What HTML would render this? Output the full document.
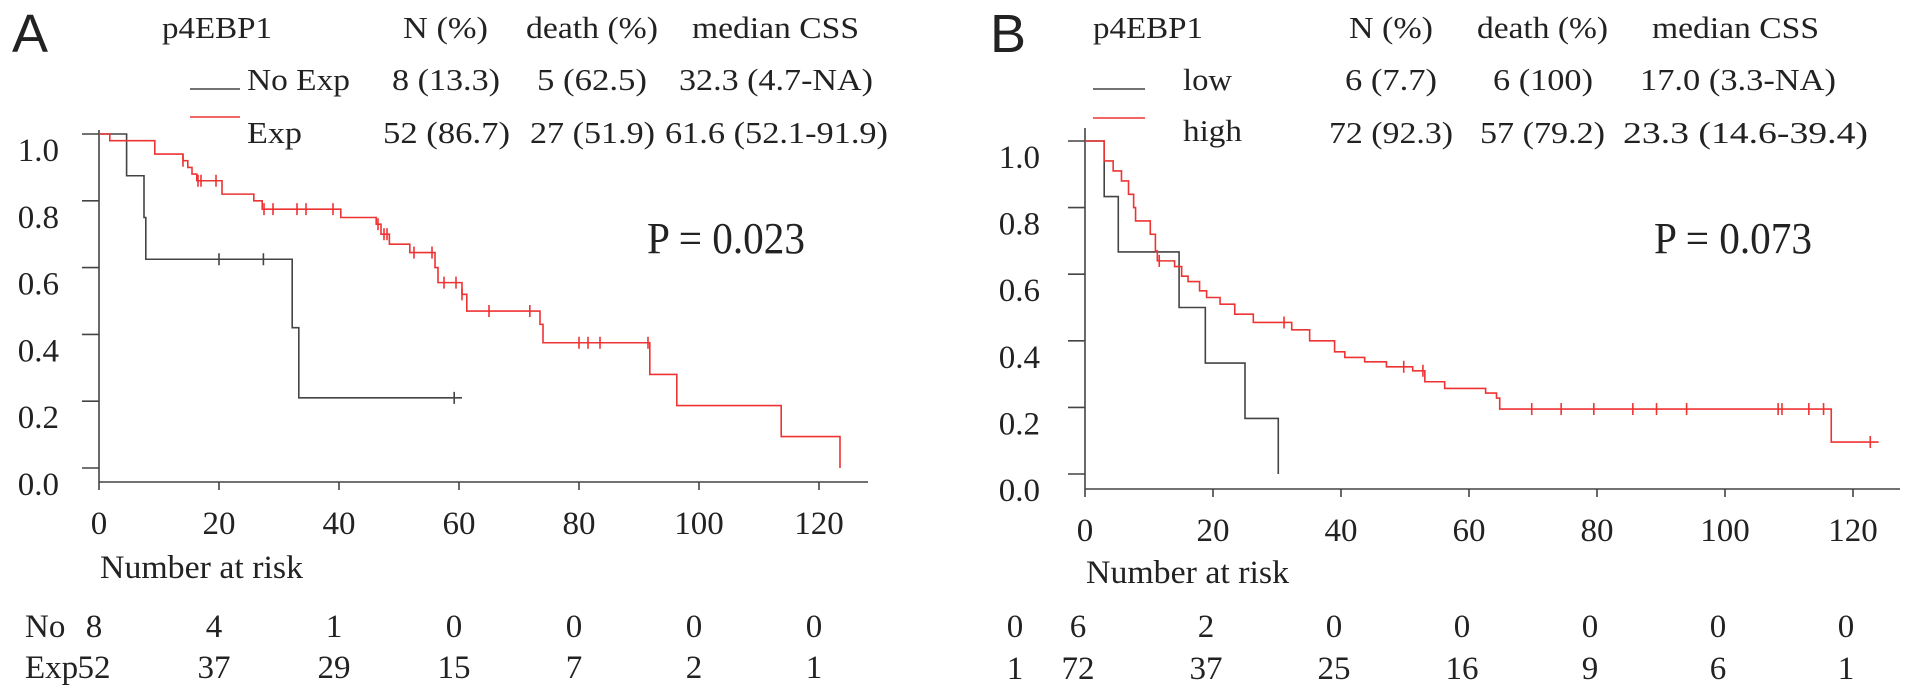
<!DOCTYPE html>
<html><head><meta charset="utf-8"><style>
html,body{margin:0;padding:0;background:#fff}
svg{display:block}
text{font-family:"Liberation Serif",serif;fill:#222}
</style></head><body>
<svg id="c" width="1913" height="699" viewBox="0 0 1913 699" xmlns="http://www.w3.org/2000/svg">
<g font-size="31">
<text x="12" y="52" style="font-family:'Liberation Sans',sans-serif" font-size="54">A</text>
<text x="162" y="38" textLength="110" lengthAdjust="spacingAndGlyphs">p4EBP1</text>
<text x="403" y="38" textLength="85" lengthAdjust="spacingAndGlyphs">N (%)</text>
<text x="526" y="38" textLength="132" lengthAdjust="spacingAndGlyphs">death (%)</text>
<text x="692" y="38" textLength="167" lengthAdjust="spacingAndGlyphs">median CSS</text>
<line x1="190" y1="89" x2="240" y2="89" stroke="#444" stroke-width="1.6"/>
<text x="247" y="90" textLength="103" lengthAdjust="spacingAndGlyphs">No Exp</text>
<text x="392" y="90" textLength="108" lengthAdjust="spacingAndGlyphs">8 (13.3)</text>
<text x="537" y="90" textLength="110" lengthAdjust="spacingAndGlyphs">5 (62.5)</text>
<text x="679" y="90" textLength="194" lengthAdjust="spacingAndGlyphs">32.3 (4.7-NA)</text>
<line x1="190" y1="117" x2="240" y2="117" stroke="#ee3333" stroke-width="1.6"/>
<text x="247" y="143" textLength="55" lengthAdjust="spacingAndGlyphs">Exp</text>
<text x="383" y="143" textLength="127" lengthAdjust="spacingAndGlyphs">52 (86.7)</text>
<text x="530" y="143" textLength="125" lengthAdjust="spacingAndGlyphs">27 (51.9)</text>
<text x="665" y="143" textLength="223" lengthAdjust="spacingAndGlyphs">61.6 (52.1-91.9)</text>
<text x="647" y="253" font-size="44" textLength="158" lengthAdjust="spacingAndGlyphs">P = 0.023</text>
</g>
<g font-size="31">
<text x="990" y="52" style="font-family:'Liberation Sans',sans-serif" font-size="54">B</text>
<text x="1093" y="38" textLength="110" lengthAdjust="spacingAndGlyphs">p4EBP1</text>
<text x="1349" y="38" textLength="84" lengthAdjust="spacingAndGlyphs">N (%)</text>
<text x="1477" y="38" textLength="131" lengthAdjust="spacingAndGlyphs">death (%)</text>
<text x="1652" y="38" textLength="167" lengthAdjust="spacingAndGlyphs">median CSS</text>
<line x1="1093" y1="89" x2="1145" y2="89" stroke="#444" stroke-width="1.6"/>
<text x="1183" y="90" textLength="49" lengthAdjust="spacingAndGlyphs">low</text>
<text x="1345" y="90" textLength="92" lengthAdjust="spacingAndGlyphs">6 (7.7)</text>
<text x="1493" y="90" textLength="100" lengthAdjust="spacingAndGlyphs">6 (100)</text>
<text x="1640" y="90" textLength="196" lengthAdjust="spacingAndGlyphs">17.0 (3.3-NA)</text>
<line x1="1093" y1="118" x2="1145" y2="118" stroke="#ee3333" stroke-width="1.6"/>
<text x="1183" y="141" textLength="59" lengthAdjust="spacingAndGlyphs">high</text>
<text x="1329" y="143" textLength="124" lengthAdjust="spacingAndGlyphs">72 (92.3)</text>
<text x="1480" y="143" textLength="125" lengthAdjust="spacingAndGlyphs">57 (79.2)</text>
<text x="1623" y="143" textLength="245" lengthAdjust="spacingAndGlyphs">23.3 (14.6-39.4)</text>
<text x="1654" y="253" font-size="44" textLength="158" lengthAdjust="spacingAndGlyphs">P = 0.073</text>
</g>
</svg>
<script>
// ---- Panel A data ----
const xTicks = [0,20,40,60,80,100,120];
const yTicks = [0,0.2,0.4,0.6,0.8,1.0];
const yTickLabels = ["0.0","0.2","0.4","0.6","0.8","1.0"];
const noExpT = [0,4.6,7.5,7.8,32.2,33.3];
const noExpV = [1,0.875,0.75,0.625,0.42,0.21];
const noExpEnd = 60.5;
const noExpCens = [20,27.4,59.2];
const expT = [0,1.8,9.3,14,14.8,15.5,16.3,20.5,25.8,27.2,40.3,46.2,47,48.4,51.8,56,56.5,60.5,61.3,73.5,74,91.8,96.3,113.7,123.5];
const expV = [1,0.98,0.94,0.92,0.90,0.88,0.86,0.82,0.80,0.775,0.75,0.73,0.70,0.67,0.645,0.60,0.555,0.52,0.47,0.43,0.375,0.28,0.187,0.094,0];
const expEnd = 123.5;
const expCens = [14,16.5,17,19.5,27.5,29,33,34.5,39,46.5,47.5,48,52.5,55.5,57.5,59.5,60.5,65,71.8,80,81.5,83.5,91.5];
const riskNo = [8,4,1,0,0,0,0];
const riskExp = [52,37,29,15,7,2,1];
// ---- Panel B data ----
const lowT = [0,3,5.2,14.7,18.8,25,30.2];
const lowV = [1,0.833,0.667,0.5,0.333,0.167,0];
const lowEnd = 30.2;
const lowCens = [];
const highT = [0,3,4.4,5.7,6.8,7.6,7.9,10.2,11,11.3,14,15.1,16.1,17.9,19,21.1,23.4,26.3,32.3,35.1,39,40.6,43.7,47.1,51.2,53.1,56.2,62.6,64.3,64.8,116.6];
const highV = [1,0.94,0.91,0.88,0.84,0.80,0.76,0.72,0.67,0.64,0.623,0.594,0.578,0.55,0.53,0.51,0.48,0.455,0.433,0.40,0.367,0.35,0.337,0.322,0.31,0.277,0.257,0.243,0.228,0.195,0.096];
const highEnd = 124;
const highCens = [11.6,31.1,49.8,52.8,69.8,74.4,79.5,85.6,89.3,94,108.3,108.9,113.1,115.4,122.7];
const riskLow = [6,2,0,0,0,0,0];
const riskHigh = [72,37,25,16,9,6,1];

const NS = "http://www.w3.org/2000/svg";
const svg = document.getElementById('c');
function mk(tag, attrs, parent){
  const e = document.createElementNS(NS, tag);
  for (const k in attrs) e.setAttribute(k, attrs[k]);
  (parent||svg).appendChild(e);
  return e;
}
function stepAt(T,V,t){ let v=V[0]; for(let i=0;i<T.length;i++){ if(T[i]<=t) v=V[i]; } return v; }

function panel(p){
  const g = mk('g', {});
  
  
  const X = t => p.x0 + p.sx*t;
  const Y = v => p.y0 - p.sy*v;
  const ya = mk('line',{x1:p.x0,y1:p.axTop,x2:p.x0,y2:p.axY,stroke:'#444','stroke-width':1.6},g);
  
  
  const xa = mk('line',{x1:p.x0,y1:p.axY,x2:p.axRight,y2:p.axY,stroke:'#444','stroke-width':1.6},g);
  
  
  yTicks.forEach((v,i)=>{
    const tk = mk('line',{x1:p.x0-17,y1:Y(v),x2:p.x0,y2:Y(v),stroke:'#444','stroke-width':1.6},g);
    
    
    const tl = mk('text',{x:p.yLabX,y:Y(v)+27,'text-anchor':'end','font-size':33},g);
    
    
    tl.textContent = yTickLabels[i];
  });
  xTicks.forEach(t=>{
    const tk = mk('line',{x1:X(t),y1:p.axY,x2:X(t),y2:p.axY+8,stroke:'#444','stroke-width':1.6},g);
    
    
    const tl = mk('text',{x:X(t),y:p.axY+52,'text-anchor':'middle','font-size':33},g);
    
    
    tl.textContent = String(t);
  });
  const nr = mk('text',{x:p.nrX,y:p.nrY,'font-size':33,textLength:203,lengthAdjust:'spacingAndGlyphs'},g);
  
  
  nr.textContent = 'Number at risk';
  p.series.forEach(s=>{
    let d = 'M'+X(s.T[0])+','+Y(s.V[0]);
    for(let i=1;i<s.T.length;i++){ d += ' H'+X(s.T[i])+' V'+Y(s.V[i]); }
    d += ' H'+X(s.end);
    const path = mk('path',{d:d,fill:'none',stroke:s.color,'stroke-width':1.6},g);
    
    
    s.C.forEach(t=>{
      const v = stepAt(s.T,s.V,t);
      const cm = mk('line',{x1:X(t),y1:Y(v)-6,x2:X(t),y2:Y(v)+6,stroke:s.color,'stroke-width':1.6},g);
      
      
    });
  });
  p.risk.forEach((r,ri)=>{
    const lab = mk('text',{x:r.labX,y:r.y,'font-size':33,'text-anchor':r.anchor},g);
    
    
    lab.textContent = r.label;
    r.vals.forEach((n,i)=>{
      const tx = mk('text',{x:X(xTicks[i])-p.riskOff,y:r.y,'text-anchor':'middle','font-size':33},g);
      
      
      tx.textContent = String(n);
    });
  });
}

panel({id:'a', x0:99, sx:6, y0:468, sy:334, axTop:130, axY:482, axRight:868, yLabX:59,
  nrX:100, nrY:578, riskOff:5,
  series:[{name:'no-exp',T:noExpT,V:noExpV,end:noExpEnd,C:noExpCens,color:'#444'},
          {name:'exp',T:expT,V:expV,end:expEnd,C:expCens,color:'#ee3333'}],
  risk:[{name:'no',label:'No',labX:25,anchor:'start',y:637,vals:riskNo},
        {name:'exp',label:'Exp',labX:25,anchor:'start',y:678,vals:riskExp}]});
panel({id:'b', x0:1085, sx:6.4, y0:474, sy:333, axTop:128, axY:489, axRight:1900, yLabX:1040,
  nrX:1086, nrY:583, riskOff:7,
  series:[{name:'low',T:lowT,V:lowV,end:lowEnd,C:lowCens,color:'#444'},
          {name:'high',T:highT,V:highV,end:highEnd,C:highCens,color:'#ee3333'}],
  risk:[{name:'low',label:'0',labX:1015,anchor:'middle',y:637,vals:riskLow},
        {name:'high',label:'1',labX:1015,anchor:'middle',y:679,vals:riskHigh}]});
</script>
</body></html>
